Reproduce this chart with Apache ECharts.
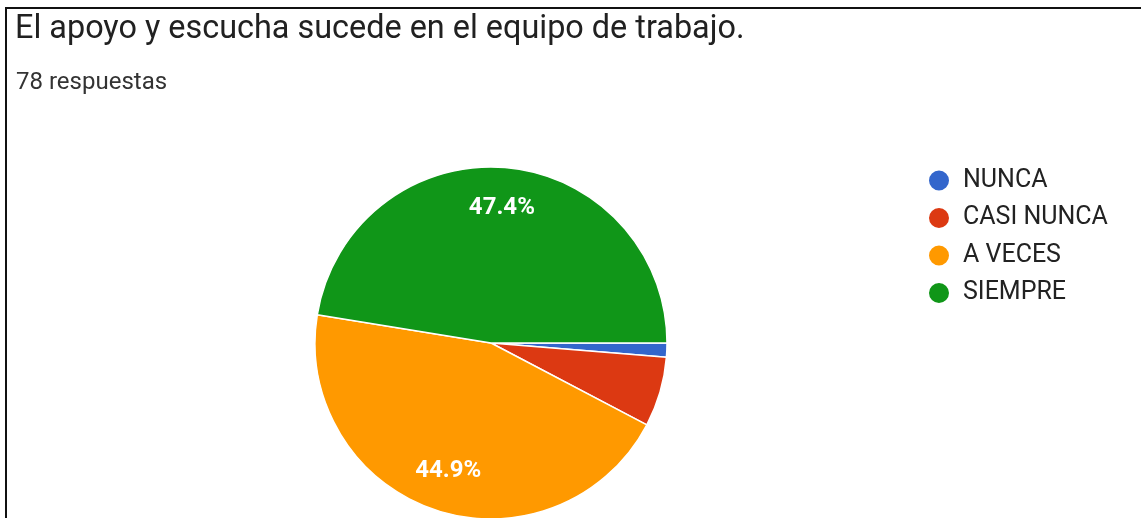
<!DOCTYPE html>
<html>
<head>
<meta charset="utf-8">
<script src="https://cdn.jsdelivr.net/npm/echarts@6/dist/echarts.min.js"></script>
<style>
  html, body { margin: 0; padding: 0; background: #fff; }
  #frame { position: absolute; left: 5px; top: 7px; width: 1136px; height: 511px;
           border-left: 2px solid #111; border-top: 2px solid #111; }
  #main { position: absolute; left: 0; top: 0; width: 1141px; height: 518px; }
</style>
</head>
<body>
<div id="frame"></div>
<div id="main"></div>
<script>
// respuestas por opción (78 en total)
var categories = ['NUNCA', 'CASI NUNCA', 'A VECES', 'SIEMPRE'];
var counts = [1, 5, 35, 37];
var colors = ['#3366cc', '#dc3912', '#ff9900', '#109618'];

var chart = echarts.init(document.getElementById('main'));

var pieData = categories.map(function (name, i) {
    return { name: name, value: counts[i], itemStyle: { color: colors[i] } };
});

var option = {
    animation: false,
    title: [
        {
            text: 'El apoyo y escucha sucede en el equipo de trabajo.',
            left: 10, top: 9,
            textStyle: { fontFamily: 'Roboto', fontSize: 32.4, fontWeight: 'normal', color: '#212121' }
        },
        {
            text: '78 respuestas',
            left: 11, top: 66,
            textStyle: { fontFamily: 'Roboto', fontSize: 24, fontWeight: 'normal', color: '#333' }
        }
    ],
    legend: {
        orient: 'vertical',
        left: 922, top: 163,
        icon: 'circle',
        itemWidth: 22, itemHeight: 22,
        itemGap: 12.5,
        textStyle: { fontFamily: 'Roboto', fontSize: 25, lineHeight: 22, color: '#222', padding: [0, 0, 0, 8] },
        data: categories
    },
    series: [
        {
            type: 'pie',
            center: [491, 343],
            radius: [0, 176],
            startAngle: 0,
            clockwise: true,
            percentPrecision: 1,
            itemStyle: { borderColor: '#fff', borderWidth: 1.5 },
            label: { show: false },
            labelLine: { show: false },
            emphasis: { disabled: true },
            data: pieData
        },
        {
            // capa transparente solo para poner etiquetas a ~3/4 del radio
            type: 'pie',
            center: [491, 343],
            radius: [88, 176],
            startAngle: 0,
            clockwise: true,
            percentPrecision: 1,
            silent: true,
            itemStyle: { color: 'rgba(0,0,0,0)', borderWidth: 0 },
            label: {
                show: true,
                position: 'inside',
                fontFamily: 'Roboto',
                fontSize: 24,
                fontWeight: 'bold',
                color: '#fff',
                formatter: function (p) { return p.percent >= 10 ? p.percent.toFixed(1) + '%' : ''; }
            },
            labelLine: { show: false },
            emphasis: { disabled: true },
            data: categories.map(function (name, i) { return { name: name, value: counts[i] }; })
        }
    ]
};

chart.setOption(option);
</script>
</body>
</html>
